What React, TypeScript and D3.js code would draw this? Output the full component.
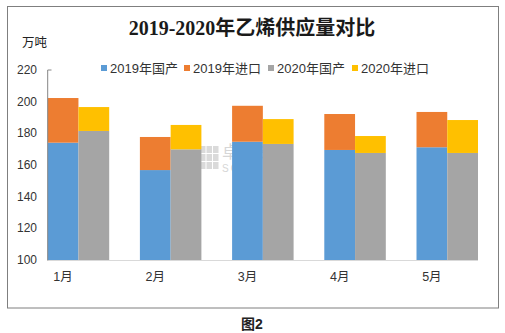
import React from "react";
import * as d3 from "d3";

const months = ["1月", "2月", "3月", "4月", "5月"];
const domestic2019 = [174.1, 156.8, 174.7, 169.5, 171.2];
const import2019 = [28.2, 20.9, 22.7, 22.7, 22.3];
const domestic2020 = [181.5, 169.9, 173.3, 167.6, 167.6];
const import2020 = [15.1, 15.4, 15.7, 10.7, 20.8];
const yTicks = [100, 120, 140, 160, 180, 200, 220];
const legendLabels = ["2019年国产", "2019年进口", "2020年国产", "2020年进口"];
const colors = ["#5B9BD5", "#ED7D31", "#A5A5A5", "#FFC000"];

const W = 505;
const H = 333;

export default function App() {
  const x = d3.scaleBand<string>().domain(months).range([47.7, 478]).paddingInner(0.333).paddingOuter(0).align(0);
  const y = d3.scaleLinear().domain([100, 220]).range([260, 70]);
  const bw = x.bandwidth() / 2;
  const font = "'Liberation Sans', 'Noto Sans CJK SC', sans-serif";

  const bars: JSX.Element[] = [];
  months.forEach((m, i) => {
    const x0 = x(m)!;
    const d19 = domestic2019[i];
    const t19 = d19 + import2019[i];
    const d20 = domestic2020[i];
    const t20 = d20 + import2020[i];
    bars.push(<rect key={`a${i}`} x={x0} y={y(d19)} width={bw} height={y(100) - y(d19)} fill={colors[0]} />);
    bars.push(<rect key={`b${i}`} x={x0} y={y(t19)} width={bw} height={y(d19) - y(t19)} fill={colors[1]} />);
    bars.push(<rect key={`c${i}`} x={x0 + bw} y={y(d20)} width={bw} height={y(100) - y(d20)} fill={colors[2]} />);
    bars.push(<rect key={`d${i}`} x={x0 + bw} y={y(t20)} width={bw} height={y(d20) - y(t20)} fill={colors[3]} />);
  });

  const legendX = [101, 184, 268, 352];

  return (
    <svg width={W} height={H} style={{ position: "absolute", left: 0, top: 0, background: "#fff" }}>
      <rect x={0} y={0} width={W} height={H} fill="#fff" />
      <rect x={7.5} y={6.5} width={491} height={301.5} fill="#fff" stroke="#7f7f7f" strokeWidth={1} />
      <text x={252} y={35} textAnchor="middle" fontFamily="'Liberation Serif', 'Noto Sans CJK SC', serif" fontWeight="bold" fontSize={20} fill="#1a1a1a">
        2019-2020年乙烯供应量对比
      </text>
      <text x={22} y={47} fontFamily={font} fontSize={12.5} fill="#222">万吨</text>

      {legendLabels.map((l, i) => (
        <g key={l}>
          <rect x={legendX[i]} y={65} width={6} height={6} fill={colors[i]} />
          <text x={legendX[i] + 9} y={72.5} fontFamily={font} fontSize={13} fill="#333">{l}</text>
        </g>
      ))}

      {/* watermark */}
      <g opacity={0.55}>
        {[0, 1, 2].map((r) =>
          [0, 1, 2].map((c) => (
            <rect key={`w${r}${c}`} x={200 + c * 6.5} y={146 + r * 8} width={5.5} height={7} fill="#bdbdbd" />
          ))
        )}
        <text x={222} y={158} fontFamily={font} fontSize={17} fill="#b5b5b5">卓创资讯</text>
        <text x={222} y={172} fontFamily={font} fontSize={10} fill="#b5b5b5" letterSpacing={2}>SCI99.COM</text>
      </g>

      {bars}

      <line x1={47.7} x2={478} y1={260.5} y2={260.5} stroke="#d9d9d9" strokeWidth={1} />
      <line x1={47.7} x2={47.7} y1={70} y2={260.5} stroke="#868686" strokeWidth={1} />
      <line x1={47.7} x2={51.5} y1={70} y2={70} stroke="#868686" strokeWidth={1} />

      {yTicks.map((t) => (
        <text key={t} x={37} y={y(t) + 4} textAnchor="end" fontFamily={font} fontSize={12} fill="#333">{t}</text>
      ))}
      {months.map((m) => (
        <text key={m} x={x(m)! + bw / 2} y={281} textAnchor="middle" fontFamily={font} fontSize={12.5} fill="#333">{m}</text>
      ))}

      <text x={252} y={329} textAnchor="middle" fontFamily={font} fontWeight="bold" fontSize={14} fill="#222">图2</text>
    </svg>
  );
}
